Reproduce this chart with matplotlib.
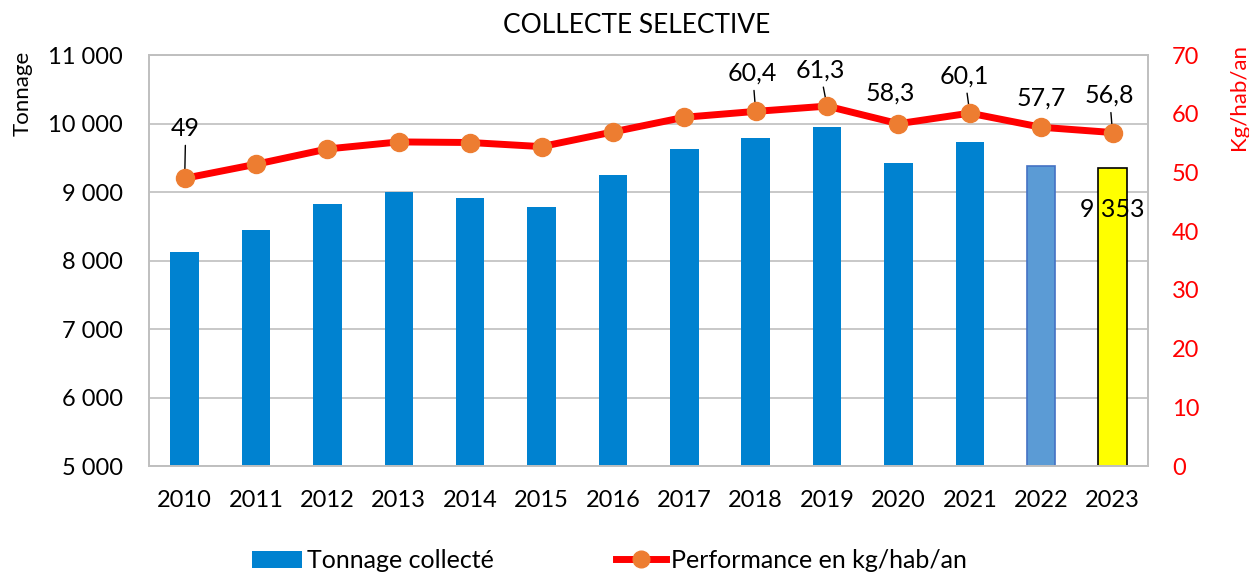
import matplotlib
matplotlib.use("Agg")
import matplotlib.pyplot as plt
from matplotlib.lines import Line2D
from matplotlib.patches import Patch

plt.rcParams['font.family'] = ['Lato', 'DejaVu Sans']

years = ['2010', '2011', '2012', '2013', '2014', '2015', '2016', '2017',
         '2018', '2019', '2020', '2021', '2022', '2023']
tonnage = [8130, 8445, 8825, 9000, 8912, 8780, 9248, 9628,
           9788, 9949, 9423, 9730, 9380, 9353]
performance = [49.0, 51.4, 54.0, 55.2, 55.1, 54.4, 56.9, 59.4,
               60.4, 61.3, 58.3, 60.1, 57.7, 56.8]
left_ticks = [5000, 6000, 7000, 8000, 9000, 10000, 11000]
right_ticks = [0, 10, 20, 30, 40, 50, 60, 70]

# labels shown on the line: index -> (dx, dy px, leader)
line_labels = {0: (1, 50, True), 8: (-3, 38, True), 9: (-7, 36, True),
               10: (-8, 31, False), 11: (-5, 37, True), 12: (0, 29, False),
               13: (-3, 37, True)}

fig = plt.figure(figsize=(12.49, 5.72), dpi=100)
ax = fig.add_axes([0.1193, 0.1853, 0.8, 0.7185])
ax2 = ax.twinx()

x = list(range(len(years)))
colors = ['#0082D0'] * 12 + ['#5B9BD5', '#FFFF00']
edges = ['#0082D0'] * 12 + ['#4472C4', '#000000']
lws = [0] * 12 + [1.2, 1.2]
ax.bar(x, tonnage, width=0.4, color=colors, edgecolor=edges, linewidth=lws, zorder=2)

ax.set_ylim(5000, 11000)
ax.set_yticks(left_ticks)
ax.set_yticklabels([f"{v:,}".replace(",", " ") for v in left_ticks], fontsize=17)
ax.set_xlim(-0.5, len(years) - 0.5)
ax.set_xticks(x)
ax.set_xticklabels(years, fontsize=17)
ax.grid(axis='y', color='#BFBFBF', linewidth=1.2, zorder=0)
ax.set_axisbelow(True)
ax.tick_params(axis='y', length=0, pad=19)
ax.tick_params(axis='x', length=0, pad=17)
for sp in list(ax.spines.values()) + list(ax2.spines.values()):
    sp.set_color('#BFBFBF')
    sp.set_linewidth(1.2)

ax.annotate("9 353", xy=(13, tonnage[13]), xytext=(0, -42), textcoords='offset pixels',
            ha='center', va='center', fontsize=18, zorder=5)

ax2.plot(x, performance, color='#FF0000', linewidth=5, marker='o', markersize=13,
         markerfacecolor='#ED7D31', markeredgecolor='#ED7D31', zorder=4)
ax2.set_ylim(0, 70)
ax2.set_yticks(right_ticks)
ax2.set_yticklabels([str(v) for v in right_ticks], fontsize=17, color='#FF0000')
ax2.tick_params(axis='y', length=0, pad=17)

for i, (dx, dy, leader) in line_labels.items():
    v = performance[i]
    txt = f"{v:g}".replace(".", ",")
    ax2.annotate(txt, xy=(i, v), xytext=(dx, dy), textcoords='offset pixels',
                 ha='center', va='center', fontsize=18,
                 arrowprops=dict(arrowstyle='-', color='black', lw=1,
                                 shrinkA=2, shrinkB=0) if leader else None)

fig.text(0.51, 0.955, "COLLECTE SELECTIVE", ha='center', va='center', fontsize=19)
fig.text(0.018, 0.836, "Tonnage", rotation=90, ha='center', va='center', fontsize=16)
fig.text(0.992, 0.83, "Kg/hab/an", rotation=90, ha='center', va='center', fontsize=16,
         color='#FF0000')

handles = [Patch(facecolor='#0082D0', edgecolor='none'),
           Line2D([0], [0], color='#FF0000', lw=5, marker='o', markersize=12,
                  markerfacecolor='#ED7D31', markeredgecolor='#ED7D31')]
fig.legend(handles, ['Tonnage collecté', 'Performance en kg/hab/an'],
           loc='center', bbox_to_anchor=(0.488, 0.02), ncol=2, frameon=False,
           fontsize=18, handlelength=2.0, handletextpad=0.2, columnspacing=4.9)

fig.savefig('out.png', dpi=100)
